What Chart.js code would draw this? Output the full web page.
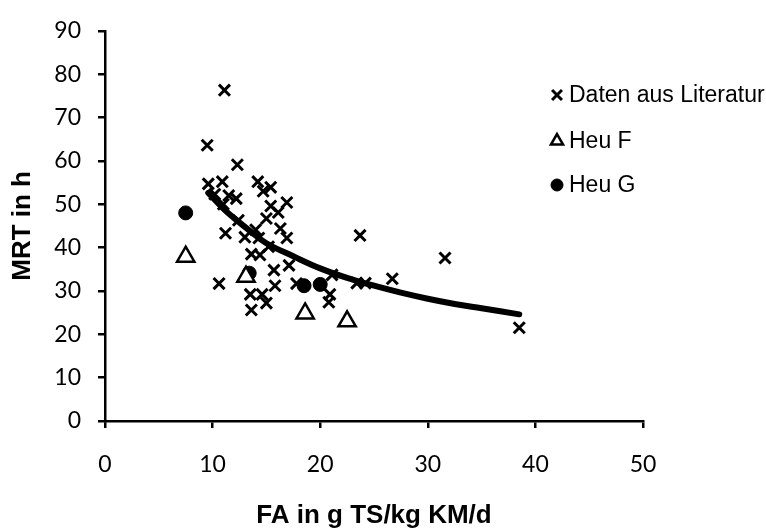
<!DOCTYPE html>
<html>
<head>
<meta charset="utf-8">
<script src="https://cdn.jsdelivr.net/npm/chart.js@4.4.0/dist/chart.umd.min.js"></script>
<style>
  html, body { margin: 0; padding: 0; background: #fff; }
  #wrap { width: 766px; height: 531px; }
</style>
</head>
<body>
<div id="wrap"><canvas id="myChart" width="766" height="531"></canvas></div>
<script>
// Daten aus Literatur (FA in g TS/kg KM/d -> MRT in h)
const litX = [11.1, 9.5, 12.3, 9.6, 10.9, 14.2, 14.7, 15.4, 10.2, 11.5, 12.2, 11.0, 15.4, 16.9, 16.1,
  15.0, 12.4, 11.2, 13.0, 14.0, 14.3, 16.3, 16.9, 15.2, 13.6, 14.4, 15.7, 17.1, 10.6, 15.8,
  17.8, 21.1, 20.9, 20.8, 13.5, 14.6, 15.0, 13.6, 23.7, 31.6, 26.7, 23.4, 24.2, 38.5];
const litY = [76.3, 63.6, 59.1, 54.7, 55.2, 55.2, 53.0, 53.9, 52.3, 52.0, 51.3, 50.0, 49.6, 50.4, 48.1,
  46.7, 46.3, 43.3, 42.4, 44.1, 42.2, 44.4, 42.2, 40.2, 38.5, 38.3, 34.8, 35.9, 31.7, 31.2,
  31.7, 33.7, 29.2, 27.4, 29.2, 29.2, 27.2, 25.6, 42.8, 37.6, 32.8, 31.8, 31.8, 21.5];

// Heu F / Heu G
const heuFX = [7.5, 13.1, 18.6, 22.5];
const heuFY = [37.9, 33.3, 24.8, 23.0];
const heuGX = [7.5, 13.4, 18.5, 20.0];
const heuGY = [48.0, 34.1, 31.2, 31.5];

// Trendlinie
const trendX = [9.6, 11, 12, 13.5, 15, 17.5, 20, 22.5, 25, 27.5, 30, 32.5, 35, 38.5];
const trendY = [52.6, 49.0, 46.8, 43.8, 41.0, 38.0, 35.2, 33.0, 31.2, 29.6, 28.2, 27.0, 26.0, 24.6];

const xTicks = [0, 10, 20, 30, 40, 50];
const yTicks = [0, 10, 20, 30, 40, 50, 60, 70, 80, 90];
const legendLabels = ['Daten aus Literatur', 'Heu F', 'Heu G'];

const toPoints = (xs, ys) => xs.map((x, i) => ({ x: x, y: ys[i] }));

// Legende rechts oben im Diagramm
const sideLegend = {
  id: 'sideLegend',
  afterDraw(chart) {
    const ctx = chart.ctx;
    const marks = [
      { pointStyle: 'crossRot', radius: 7, borderWidth: 3, fill: '#000' },
      { pointStyle: 'triangle', radius: 7, borderWidth: 2.5, fill: '#fff' },
      { pointStyle: 'circle', radius: 6, borderWidth: 1, fill: '#000' }
    ];
    const rows = [95, 141, 185];
    ctx.save();
    legendLabels.forEach((label, i) => {
      ctx.fillStyle = marks[i].fill;
      ctx.strokeStyle = '#000';
      ctx.lineWidth = marks[i].borderWidth;
      Chart.helpers.drawPoint(ctx, marks[i], 557, rows[i]);
      ctx.fillStyle = '#000';
      ctx.font = '23px "Liberation Sans", Arial, sans-serif';
      ctx.textAlign = 'left';
      ctx.textBaseline = 'middle';
      ctx.fillText(label, 569, rows[i] + 1);
    });
    ctx.restore();
  }
};

const axisGrid = { display: true, drawOnChartArea: false, drawTicks: true, tickLength: 7, color: '#000', lineWidth: 2.5 };
const axisBorder = { display: true, color: '#000', width: 2.5 };
const titleFont = { family: '"Liberation Sans", Arial, sans-serif', size: 26, weight: 'bold' };
const tickFont = { family: 'Lato, sans-serif', size: 23 };

const ctx = document.getElementById('myChart').getContext('2d');
const myChart = new Chart(ctx, {
  type: 'scatter',
  data: {
    datasets: [
      {
        label: 'Trend',
        data: toPoints(trendX, trendY),
        showLine: true,
        borderColor: '#000',
        borderWidth: 6,
        borderCapStyle: 'round',
        pointRadius: 0,
        tension: 0.4,
        fill: false,
        order: 0
      },
      {
        label: legendLabels[0],
        data: toPoints(litX, litY),
        pointStyle: 'crossRot',
        pointRadius: 7.8,
        pointBorderWidth: 3,
        borderColor: '#000',
        backgroundColor: '#000',
        order: 1
      },
      {
        label: legendLabels[1],
        data: toPoints(heuFX, heuFY),
        pointStyle: 'triangle',
        pointRadius: 10,
        pointBorderWidth: 2.5,
        borderColor: '#000',
        backgroundColor: '#fff',
        order: 1
      },
      {
        label: legendLabels[2],
        data: toPoints(heuGX, heuGY),
        pointStyle: 'circle',
        pointRadius: 7,
        pointBorderWidth: 1,
        borderColor: '#000',
        backgroundColor: '#000',
        order: 1
      }
    ]
  },
  options: {
    responsive: false,
    animation: false,
    layout: { padding: { left: 0, right: 123, top: 19, bottom: 0 } },
    plugins: { legend: { display: false }, tooltip: { enabled: false } },
    scales: {
      x: {
        type: 'linear',
        min: 0,
        max: 50,
        afterFit: s => { s.height = 110; },
        afterBuildTicks: s => { s.ticks = xTicks.map(v => ({ value: v })); },
        grid: axisGrid,
        border: axisBorder,
        ticks: { color: '#000', font: tickFont, padding: 23, maxRotation: 0 },
        title: { display: true, text: 'FA in g TS/kg KM/d', color: '#000', font: titleFont, padding: { top: 0, bottom: 0 } }
      },
      y: {
        type: 'linear',
        min: 0,
        max: 90,
        afterFit: s => { s.width = 105; },
        afterBuildTicks: s => { s.ticks = yTicks.map(v => ({ value: v })); },
        grid: axisGrid,
        border: axisBorder,
        ticks: { color: '#000', font: tickFont, padding: 17 },
        title: { display: true, text: 'MRT in h', color: '#000', font: titleFont, padding: { top: 7, bottom: 0 } }
      }
    }
  },
  plugins: [sideLegend]
});
</script>
</body>
</html>
